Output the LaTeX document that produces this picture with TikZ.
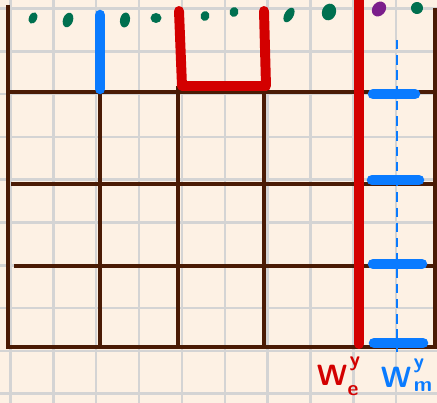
\documentclass[tikz,border=0pt]{standalone}
\usepackage{xcolor}
\definecolor{paper}{HTML}{FDF1E4}
\definecolor{gridgray}{HTML}{D4D4D4}
\definecolor{wood}{HTML}{4A1B05}
\definecolor{wallred}{HTML}{D30000}
\definecolor{ribblue}{HTML}{0A7BFF}
\definecolor{dotgreen}{HTML}{00704F}
\definecolor{dotpurple}{HTML}{7B1E8B}
\usepackage{tikz}
\usetikzlibrary{positioning}

\begin{document}
\begin{tikzpicture}[
    x=0.03cm, y=-0.03cm,
    grid_line/.style={draw=gridgray, line width=2.1pt},
    frame_line/.style={draw=wood, line width=3.4pt},
    wall_line/.style={draw=wallred, line width=8.5pt, line cap=round, line join=round},
    rib_line/.style={draw=ribblue, line width=9pt, line cap=round},
    rib_axis/.style={draw=ribblue, line width=2.4pt, dash pattern=on 8pt off 5pt},
    seed/.style={fill=dotgreen},
    lbl_big/.style={font=\fontsize{25}{25}\selectfont\sffamily\bfseries, inner sep=0pt},
    lbl_small/.style={font=\fontsize{18}{18}\selectfont\sffamily\bfseries, inner sep=0pt}
]

  % Paper and squared grid
  \fill[paper] (0,0) rectangle (437,403);
  \useasboundingbox (0,0) rectangle (437,403);
  \foreach \i in {0,...,9} {
    \draw[grid_line] ({10.5+42.85*\i},0) -- ({10.5+42.85*\i},403);
    \draw[grid_line] (0,{8.5+42.8*\i}) -- (437,{8.5+42.8*\i});
  }

  % Brown frame
  \draw[frame_line] (8,5) -- (8,349);
  \draw[frame_line] (435,8) -- (435,349);
  \draw[frame_line] (8,92) -- (435,92);
  \draw[frame_line] (11,184) -- (435,184);
  \draw[frame_line] (14,266) -- (435,266);
  \draw[frame_line] (8,347) -- (435,347);
  \draw[frame_line] (100,92) -- (100,349);
  \draw[frame_line] (178,86) -- (178,349);
  \draw[frame_line] (264,86) -- (264,349);

  % Red walls
  \draw[wall_line] (359,-6) -- (359,344);
  \draw[wall_line] (179,11) -- (182,86) -- (266,86) -- (264,11);

  % Blue members
  \draw[rib_line] (100,15) -- (100,89);
  \draw[rib_line] (373,94) -- (415,94);
  \draw[rib_line] (372,180) -- (419,180);
  \draw[rib_line] (373,264) -- (422,264);
  \draw[rib_line] (374,343) -- (423,343);
  \draw[rib_axis] (397,40) -- (397,352);

  % Dots along the top
  \foreach \x/\y/\a/\b/\r in {33/18/4/6/-25, 68/20/5/7.5/-20, 125/20/5/7.5/-10,
      156/18/5.5/5/0, 205/16/4.5/5/-20, 234/12/4.5/5/-20, 289/15/4.5/8/-30,
      329/12/7/8.5/-20, 417/8/6/6/-40}
    \fill[seed, rotate around={\r:(\x,\y)}] (\x,\y) ellipse [x radius=\a, y radius=\b];
  \fill[dotpurple, rotate around={-40:(379,9)}] (379,9) ellipse [x radius=6.5, y radius=8];

  % Labels
  \node[lbl_big, text=wallred] (we) at (332,375) {W};
  \node[lbl_small, text=wallred] (we_sup) at (355,364) {y};
  \node[lbl_small, text=wallred] (we_sub) at (353,391) {e};
  \node[lbl_big, text=ribblue] (wm) at (396,377) {W};
  \node[lbl_small, text=ribblue] (wm_sup) at (419,366) {y};
  \node[lbl_small, text=ribblue] (wm_sub) at (423,387) {m};

\end{tikzpicture}
\end{document}
